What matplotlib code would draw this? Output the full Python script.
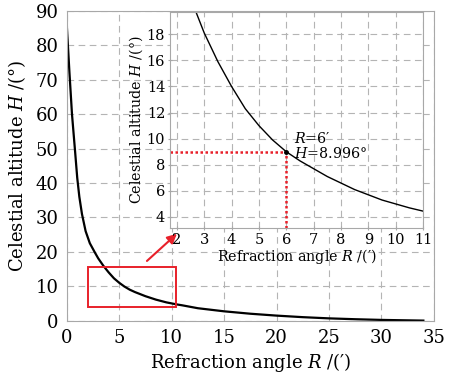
import matplotlib
matplotlib.use("Agg")
import matplotlib.pyplot as plt
from matplotlib.patches import Rectangle

plt.rcParams['font.family'] = ['DejaVu Serif']
plt.rcParams['mathtext.fontset'] = 'dejavuserif'

# refraction angle R (arcmin) vs celestial altitude H (deg)
refraction = [0.0, 0.25, 0.5, 0.8, 1.0, 1.2, 1.45, 1.8, 2.2, 2.7, 3.0, 3.5, 4.0, 4.5,
              5.0, 5.5, 6.0, 6.5, 7.0, 7.5, 8.0, 8.5, 9.0, 9.5, 10.0, 10.5, 11.0,
              12.5, 15.0, 17.5, 20.0, 22.5, 25.0, 27.5, 30.0, 32.0, 34.0]
altitude = [86.0, 72.5, 60.0, 49.0, 41.5, 36.0, 31.0, 26.0, 22.5, 19.7, 18.1, 15.9, 14.0, 12.3,
            11.0, 9.9, 9.0, 8.3, 7.7, 7.1, 6.6, 6.1, 5.7, 5.3, 5.0, 4.7, 4.45,
            3.6, 2.7, 2.0, 1.45, 1.0, 0.65, 0.4, 0.2, 0.1, 0.0]

main_xticks = [0, 5, 10, 15, 20, 25, 30, 35]
main_yticks = [0, 10, 20, 30, 40, 50, 60, 70, 80, 90]
inset_xticks = [2, 3, 4, 5, 6, 7, 8, 9, 10, 11]
inset_yticks = [4, 6, 8, 10, 12, 14, 16, 18]

mark_r, mark_h = 6, 8.996
zoom_box = (2.05, 4.05, 10.4, 15.5)  # x0, y0, x1, y1
arrow_from = (7.45, 16.8)
arrow_to = (10.7, 25.8)

red = '#e8202a'
grey = '#a8a8a8'
grid_kw = dict(color='#b4b4b4', linestyle=(0, (6, 4)), linewidth=0.8)

fig = plt.figure(figsize=(4.51, 3.77), dpi=100)
ax = fig.add_axes([0.148, 0.1496, 0.814, 0.821])
ax.plot(refraction, altitude, color='black', linewidth=1.6)
ax.set_xlim(0, 35)
ax.set_ylim(0, 90)
ax.set_xticks(main_xticks)
ax.set_yticks(main_yticks)
ax.grid(True, **grid_kw)
for s in ax.spines.values():
    s.set_color(grey)
ax.tick_params(length=0, labelsize=13, pad=6, colors='black')
ax.set_xlabel('Refraction angle $R$ /(′)', fontsize=13, labelpad=3)
ax.set_ylabel('Celestial altitude $H$ /(°)', fontsize=13, labelpad=5)

x0, y0, x1, y1 = zoom_box
ax.add_patch(Rectangle((x0, y0), x1 - x0, y1 - y0, fill=False,
                       edgecolor=red, linewidth=1.4, zorder=4))
ax.annotate('', xy=arrow_to, xytext=arrow_from,
            arrowprops=dict(arrowstyle='-|>', color=red, lw=1.5,
                            mutation_scale=14), annotation_clip=False)

ins = fig.add_axes([0.377, 0.395, 0.561, 0.573])
ins.plot(refraction, altitude, color='black', linewidth=1.0)
ins.set_xlim(1.75, 11)
ins.set_ylim(3.15, 19.7)
ins.set_xticks(inset_xticks)
ins.set_yticks(inset_yticks)
ins.grid(True, **grid_kw)
for s in ins.spines.values():
    s.set_color(grey)
ins.tick_params(length=3, direction='inout', color=grey, labelsize=10.5, pad=2)
ins.set_xlabel('Refraction angle $R$ /(′)', fontsize=10.3, labelpad=0)
ins.set_ylabel('Celestial altitude $H$ /(°)', fontsize=10.3, labelpad=1)

ins.plot([1.75, mark_r], [mark_h, mark_h], color=red, linestyle=(0, (1, 1)), linewidth=1.8)
ins.plot([mark_r, mark_r], [3.15, mark_h], color=red, linestyle=(0, (1, 1)), linewidth=1.8)
ins.plot([mark_r], [mark_h], 'o', color='black', markersize=2.5)
ins.text(6.3, 9.45, f"$R$=6′\n$H$={mark_h}°", fontsize=10.3,
         va='center', ha='left', linespacing=1.0)

fig.savefig('out.png', dpi=100)
